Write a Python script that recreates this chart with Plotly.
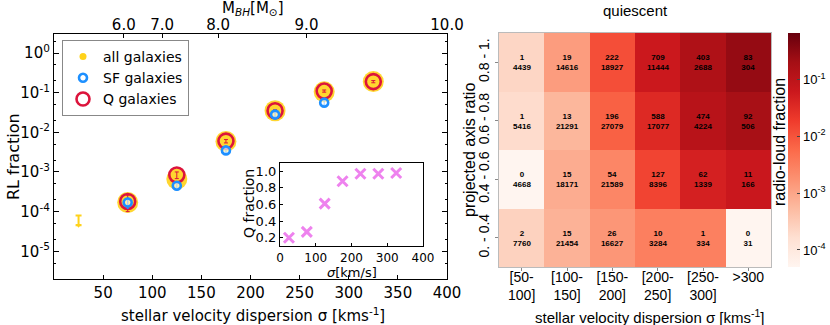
import math
import plotly.graph_objects as go
import plotly.colors as pc

# ---------------- data ----------------
sigma_bins = [75, 125, 175, 225, 275, 325]
rl_all = [1.7e-4, 6.6e-4, 5.9e-3, 0.035, 0.105, 0.19]
rl_all_err = [4e-5, 1.2e-4, 5e-4, 2e-3, 6e-3, 1.2e-2]
ul_sigma = [25]
ul_value = [8.0e-5]
ul_arrow_len = [3.5e-5]
rl_q = [1.8e-4, 8.4e-4, 6.0e-3, 0.035, 0.11, 0.19]
rl_q_err = [8e-5, 1.6e-4, 6e-4, 2e-3, 7e-3, 1.2e-2]
sigma_sf = [75, 125, 175, 225, 275]
rl_sf = [1.7e-4, 4.5e-4, 3.5e-3, 0.028, 0.056]
rl_sf_err = [5e-5, 1e-4, 5e-4, 3e-3, 7e-3]

q_frac_sigma = [25, 75, 125, 175, 225, 275, 325]
q_frac = [0.20, 0.27, 0.61, 0.88, 0.97, 0.97, 0.98]

mbh_tick_labels = ["6.0", "7.0", "8.0", "9.0", "10.0"]
mbh_tick_sigma = [71, 110, 167, 257, 400]

sig_cats = ["[50-<br>100]", "[100-<br>150]", "[150-<br>200]", "[200-<br>250]", "[250-<br>300]", ">300"]
axis_ratio_cats = ["0. - 0.4", "0.4 - 0.6", "0.6 - 0.8", "0.8 - 1."]
# radio-loud counts / total counts (rows bottom -> top)
n_rl = [
    [2, 15, 26, 10, 1, 0],
    [0, 15, 54, 127, 62, 11],
    [1, 13, 196, 588, 474, 92],
    [1, 19, 222, 709, 403, 83],
]
n_tot = [
    [7760, 21454, 16627, 3284, 334, 31],
    [4668, 18171, 21589, 8396, 1339, 166],
    [5416, 21291, 27079, 17077, 4224, 506],
    [4439, 14616, 18927, 11444, 2688, 304],
]
cbar_ticks = [-4, -3, -2, -1]

ZMIN, ZMAX = -4.3, -0.18
z = []
txt = []
for r, t in zip(n_rl, n_tot):
    zr, tr = [], []
    for a, b in zip(r, t):
        zr.append(math.log10(a / b) if a > 0 else ZMIN)
        tr.append(f"<b>{a}<br>{b}</b>")
    z.append(zr)
    txt.append(tr)

W, H = 830, 325
MR = 45
PW = W - MR
def px(x): return x / PW
def py(y): return 1 - y / H

LF = "DejaVu Sans"
RF = "Liberation Sans"
GOLD = "#FFD21A"
RED = "#DC143C"
BLUE = "#1E90FF"

fig = go.Figure()

# main panel
fig.add_trace(go.Scatter(x=sigma_bins, y=rl_all, mode="markers", xaxis="x", yaxis="y",
    marker=dict(size=21, color=GOLD, opacity=0.9, line=dict(width=0)),
    error_y=dict(type="data", array=rl_all_err, color=GOLD, thickness=1, width=2),
    showlegend=False, hoverinfo="skip"))
fig.add_trace(go.Scatter(x=ul_sigma, y=ul_value, mode="markers", xaxis="x", yaxis="y",
    marker=dict(size=1, color=GOLD),
    error_y=dict(type="data", symmetric=False, array=[0], arrayminus=ul_arrow_len,
                 color=GOLD, thickness=2, width=3),
    showlegend=False, hoverinfo="skip"))
fig.add_trace(go.Scatter(x=ul_sigma, y=[v - d for v, d in zip(ul_value, ul_arrow_len)],
    mode="markers", xaxis="x", yaxis="y",
    marker=dict(size=5, color=GOLD, symbol="triangle-down"), showlegend=False, hoverinfo="skip"))
fig.add_trace(go.Scatter(x=sigma_bins, y=rl_q, mode="markers", xaxis="x", yaxis="y",
    marker=dict(size=15, color="rgba(0,0,0,0)", line=dict(width=2.6, color=RED)),
    error_y=dict(type="data", array=rl_q_err, color=RED, thickness=1, width=2),
    showlegend=False, hoverinfo="skip"))
fig.add_trace(go.Scatter(x=sigma_sf, y=rl_sf, mode="markers", xaxis="x", yaxis="y",
    marker=dict(size=8, color="rgba(255,255,255,0.6)", line=dict(width=2.6, color=BLUE)),
    error_y=dict(type="data", array=rl_sf_err, color=BLUE, thickness=1, width=1),
    showlegend=False, hoverinfo="skip"))
# hidden trace so the top (M_BH) axis is drawn
fig.add_trace(go.Scatter(x=mbh_tick_sigma, y=[None] * len(mbh_tick_sigma), mode="markers",
    xaxis="x2", yaxis="y", marker=dict(opacity=0), showlegend=False, hoverinfo="skip"))

# legend entries
fig.add_trace(go.Scatter(x=[None], y=[None], mode="markers", name="all galaxies", xaxis="x", yaxis="y",
    marker=dict(size=7, color=GOLD)))
fig.add_trace(go.Scatter(x=[None], y=[None], mode="markers", name="SF galaxies", xaxis="x", yaxis="y",
    marker=dict(size=8, color="rgba(0,0,0,0)", line=dict(width=2.6, color=BLUE))))
fig.add_trace(go.Scatter(x=[None], y=[None], mode="markers", name="Q galaxies", xaxis="x", yaxis="y",
    marker=dict(size=13, color="rgba(0,0,0,0)", line=dict(width=2.6, color=RED))))

# inset
fig.add_trace(go.Scatter(x=q_frac_sigma, y=q_frac, mode="markers", xaxis="x3", yaxis="y3",
    marker=dict(size=10, symbol="x-thin", line=dict(width=3, color="#EE82EE"), color="#EE82EE"),
    showlegend=False, hoverinfo="skip"))

# heatmap
fig.add_trace(go.Heatmap(z=z, x=sig_cats, y=axis_ratio_cats, xaxis="x4", yaxis="y4",
    text=txt, texttemplate="%{text}", textfont=dict(size=8, family=RF, color="black"),
    colorscale=pc.sequential.Reds, zmin=ZMIN, zmax=ZMAX, showscale=True, xgap=0, ygap=0,
    hoverinfo="skip",
    colorbar=dict(x=px(788), xanchor="left", xpad=0, ypad=0, thickness=12, thicknessmode="pixels",
                  len=(267 - 33) / H, lenmode="fraction", y=py(150), yanchor="middle",
                  outlinewidth=0, tickvals=cbar_ticks,
                  ticktext=[f"10<sup>{v}</sup>" for v in cbar_ticks],
                  ticks="inside", ticklen=3, tickfont=dict(size=13, family=RF, color="black"))))

ax_common = dict(showgrid=False, zeroline=False, linecolor="black", linewidth=1.2,
                 tickcolor="black", automargin=False)

def ann(text, x, y, size, fam, angle=0):
    return dict(text=text, x=px(x), y=py(y), xref="paper", yref="paper",
                xanchor="center", yanchor="middle", textangle=angle,
                showarrow=False, font=dict(size=size, family=fam, color="black"))

fig.update_layout(
    width=W, height=H, margin=dict(l=0, r=MR, t=0, b=0, autoexpand=False),
    paper_bgcolor="white", plot_bgcolor="white",
    font=dict(family=LF, color="black"),
    xaxis=dict(domain=[px(54), px(447)], range=[0, 400], anchor="y",
               tickvals=[50, 100, 150, 200, 250, 300, 350, 400],
               ticks="inside", ticklen=4, showline=True, mirror=True,
               tickfont=dict(size=15, family=LF), **ax_common),
    xaxis2=dict(overlaying="x", side="top", anchor="y", range=[0, 400],
                tickvals=mbh_tick_sigma, ticktext=mbh_tick_labels,
                ticks="inside", ticklen=4, showline=False,
                tickfont=dict(size=15, family=LF), **ax_common),
    yaxis=dict(domain=[py(279), py(34)], type="log", range=[-5.7, 0.48], anchor="x",
               tickvals=[1e-5, 1e-4, 1e-3, 1e-2, 1e-1, 1],
               ticktext=["10<sup>-5</sup>", "10<sup>-4</sup>", "10<sup>-3</sup>",
                         "10<sup>-2</sup>", "10<sup>-1</sup>", "10<sup>0</sup>"],
               ticks="inside", ticklen=5, showline=True, mirror="ticks",
               minor=dict(ticks="inside", ticklen=2, tickcolor="black", showgrid=False),
               tickfont=dict(size=15, family=LF), **ax_common),
    xaxis3=dict(domain=[px(280), px(423)], range=[0, 400], anchor="y3",
                tickvals=[0, 100, 200, 300, 400], ticks="inside", ticklen=3,
                showline=True, mirror=True, tickfont=dict(size=12, family=LF), **ax_common),
    yaxis3=dict(domain=[py(246), py(163)], range=[0.1, 1.1], anchor="x3",
                tickvals=[0.2, 0.4, 0.6, 0.8, 1.0], ticktext=["0.2", "0.4", "0.6", "0.8", "1.0"],
                ticks="inside", ticklen=3, showline=True, mirror=True,
                tickfont=dict(size=13, family=LF), **ax_common),
    xaxis4=dict(domain=[px(499), px(771)], anchor="y4", type="category",
                ticks="outside", ticklen=3, showline=True, mirror=True, ticklabelstandoff=-6,
                linecolor="#bbbbbb", linewidth=1, tickcolor="#888888", automargin=False,
                tickfont=dict(size=14, family=RF), showgrid=False, zeroline=False),
    yaxis4=dict(domain=[py(267), py(33)], anchor="x4", type="category",
                ticks="outside", ticklen=3, tickangle=-90, showline=True, mirror=True,
                linecolor="#bbbbbb", linewidth=1, tickcolor="#888888", automargin=False,
                tickfont=dict(size=14, family=RF), showgrid=False, zeroline=False),
    legend=dict(x=px(62), y=py(40), xanchor="left", yanchor="top",
                bordercolor="#888888", borderwidth=1, bgcolor="white",
                font=dict(size=14, family=LF), itemwidth=30, tracegroupgap=0),
    annotations=[
        ann("M<sub><i>BH</i></sub>[M<sub>⊙</sub>]", 253, 9, 15, LF),
        ann("RL fraction", 13, 157, 16, LF, -90),
        ann("stellar velocity dispersion σ [kms<sup>-1</sup>]", 253, 315, 15, LF),
        ann("Q fraction", 249, 204, 14, LF, -90),
        ann("<i>σ</i>[km/s]", 352, 272, 13, LF),
        ann("quiescent", 635, 10, 15, RF),
        ann("projected axis ratio", 469, 150, 16, RF, -90),
        ann("radio-loud fraction", 779, 142, 16, RF, -90),
        ann("stellar velocity dispersion σ [kms<sup>-1</sup>]", 650, 316, 15, RF),
    ],
)

fig.write_html("out.html", config={"displayModeBar": False},
               post_script="document.body.style.margin='0';document.body.style.padding='0';")
